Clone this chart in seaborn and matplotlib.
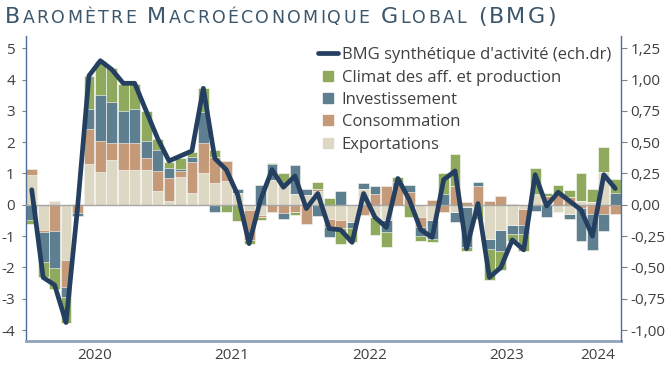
import numpy as np
import pandas as pd
import seaborn as sns
import matplotlib.pyplot as plt
from matplotlib import font_manager, ft2font
from matplotlib.lines import Line2D
from matplotlib.ticker import FuncFormatter

# monthly contributions (left scale), Jan 2020 -> Apr 2024
months = pd.period_range("2020-01", "2024-04", freq="M").strftime("%Y-%m")
export = [0.94, -0.82, 0.12, -1.75, 0.04, 1.31, 1.06, 1.44, 1.12, 1.12, 1.12, 0.43,
          0.13, 0.88, 0.39, 1.00, 0.71, 0.77, 0.39, -0.17, -0.33, 0.80, 0.65, 0.33,
          0.31, 0.45, -0.45, -0.50, -0.54, 0.49, -0.40, -0.49, 0.00, 0.00, -0.40, -0.49,
          0.00, -0.22, -0.06, 0.00, -1.10, -0.80, -0.65, -0.12, 0.30, 0.10, -0.22, -0.28,
          0.13, 0.10, 1.06, 0.00]
conso = [0.20, -0.04, -0.84, -0.88, -0.25, 1.12, 0.99, 0.54, 0.86, 0.86, 0.38, 0.64,
         0.72, 0.20, 0.99, 0.98, 0.80, 0.63, 0.00, -0.94, -0.07, -0.22, -0.27, -0.23,
         -0.60, 0.07, -0.25, -0.25, 0.00, -0.33, 0.36, 0.60, 0.73, 0.42, -0.30, 0.14,
         -0.22, 0.60, 0.10, 0.60, 0.13, 0.28, 0.04, -0.53, 0.06, 0.18, 0.31, 0.25,
         -0.09, -0.30, -0.28, -0.30]
invest = [-0.50, -0.97, -1.17, -0.30, -0.11, 0.62, 1.44, 1.30, 1.01, 1.07, 0.55, 0.67,
          0.32, 0.07, 0.13, 0.99, -0.23, 0.00, 0.12, 0.00, 0.63, 0.50, -0.18, 0.94,
          0.18, -0.35, -0.32, 0.45, -0.21, 0.21, 0.23, -0.37, 0.00, 0.21, -0.30, -0.59,
          0.36, -0.32, -1.28, 0.12, -0.32, -0.69, -0.27, -0.27, -0.20, -0.38, 0.00, -0.16,
          -1.06, -1.15, -0.55, 0.38]
climat = [-0.11, -0.48, -0.67, -0.85, 0.00, 1.05, 1.11, 1.09, 0.88, 0.82, 0.96, 0.37,
          0.21, 0.34, 0.19, 0.75, 0.23, -0.23, -0.52, -0.13, -0.10, 0.05, 0.35, -0.10,
          0.00, 0.21, 0.22, -0.50, -0.43, 0.00, -0.55, -0.48, 0.17, -0.38, -0.15, -0.11,
          0.64, 1.02, -0.13, -0.45, -0.98, -0.60, -0.23, -0.55, 0.83, 0.10, 0.32, 0.21,
          0.87, 0.39, 0.77, 0.43]
# synthetic BMG (right scale)
bmg = [0.12, -0.58, -0.64, -0.94, -0.03, 1.03, 1.15, 1.08, 0.97, 0.97, 0.75, 0.53,
       0.35, 0.39, 0.43, 0.93, 0.37, 0.28, 0.08, -0.31, 0.04, 0.28, 0.14, 0.23,
       -0.03, 0.09, -0.19, -0.20, -0.30, 0.09, -0.10, -0.18, 0.21, 0.04, -0.20, -0.26,
       0.20, 0.27, -0.35, 0.01, -0.58, -0.50, -0.28, -0.36, 0.24, -0.01, 0.10, 0.03,
       -0.04, -0.25, 0.24, 0.13]

years = ["2020", "2021", "2022", "2023", "2024"]
year_pos = [5.5, 17.5, 29.5, 41.5, 49.5]
year_edges = [-0.5, 11.5, 23.5, 35.5, 47.5]

layers = [("Exportations", export, "#dcd8c3"),
          ("Consommation", conso, "#c49a78"),
          ("Investissement", invest, "#5e7f8f"),
          ("Climat des aff. et production", climat, "#8fa95d")]
line_color = "#243f60"
txt = "#404040"

sns.set_style("white")
plt.rcParams["font.family"] = ["Open Sans", "DejaVu Sans"]
plt.rcParams["axes.unicode_minus"] = False

fig = plt.figure(figsize=(6.72, 3.71), dpi=100)
ax = fig.add_axes([26 / 672, 30 / 371, 595 / 672, 305 / 371])

df = pd.DataFrame({name: vals for name, vals, _ in layers}, index=months)
pos = df.clip(lower=0).cumsum(axis=1)
neg = df.clip(upper=0).cumsum(axis=1)

# stacking by overlap: tallest cumulative first
for name, _, col in reversed(layers):
    for side in (pos, neg):
        sns.barplot(x=list(months), y=side[name].values, color=col, saturation=1,
                    width=0.94, edgecolor="white", linewidth=0.4, errorbar=None, ax=ax)

ax.axhline(0, color="#a6a6a6", lw=1, zorder=3)

ax2 = ax.twinx()
sns.lineplot(x=np.arange(len(bmg)), y=bmg, color=line_color, linewidth=3.4, ax=ax2)

ylo, yhi = -4.35, 5.39
ax.set_ylim(ylo, yhi)
ax2.set_ylim(ylo / 4, yhi / 4)
ax.set_xlim(-0.5, 51.5)

ax.set_yticks(range(-4, 6))
ax2.set_yticks(np.arange(-1, 1.26, 0.25))
ax2.yaxis.set_major_formatter(FuncFormatter(lambda v, p: f"{v:.2f}".replace(".", ",")))

ax.set_xticks(year_edges)
ax.set_xticklabels([])
ax.set_xticks(year_pos, minor=True)
ax.set_xticklabels(years, minor=True)
ax.tick_params(axis="x", which="major", length=3, color="#808080", direction="out")
ax.tick_params(axis="x", which="minor", length=0, pad=5, labelsize=11, labelcolor=txt)
ax.tick_params(axis="y", length=3, color="#808080", pad=5, labelsize=11, labelcolor=txt, left=True)
ax2.tick_params(axis="y", length=4, color="#808080", pad=3, labelsize=11, labelcolor=txt, right=True)
ax.set_xlabel("")
ax.set_ylabel("")
ax2.set_ylabel("")

for s in ["top", "right"]:
    ax.spines[s].set_visible(False)
for s in ["top", "left", "bottom"]:
    ax2.spines[s].set_visible(False)
ax.spines["left"].set_color("#4f6f99")
ax.spines["left"].set_linewidth(1)
ax2.spines["right"].set_color("#4f6f99")
ax2.spines["right"].set_linewidth(1)
ax.spines["bottom"].set_color("#8fa3bd")
ax.spines["bottom"].set_linewidth(2)

handles = [Line2D([], [], color=line_color, lw=3.4, label="BMG synthétique d'activité (ech.dr)")]
for name, _, col in reversed(layers):
    handles.append(Line2D([], [], ls="none", marker="s", markersize=7, color=col, label=name))
ax2.legend(handles=handles, loc="upper left", bbox_to_anchor=(310 / 672, 1 - 39 / 371),
           bbox_transform=fig.transFigure, frameon=False, fontsize=12, labelcolor=txt,
           handlelength=1.2, handletextpad=0.2, labelspacing=0.38, borderpad=0)

# small caps title, letter spaced to the reference width (advance widths from the font)
title = "Baromètre Macroéconomique Global (BMG)"
tfont = ft2font.FT2Font(font_manager.findfont("DejaVu Sans"))
sizes = [12.5 if ch.islower() else 16 for ch in title]
advs = []
for ch, size in zip(title, sizes):
    tfont.set_size(size, 100)
    advs.append(tfont.load_char(ord(ch.upper())).linearHoriAdvance / 65536)
track = (551 - sum(advs)) / (len(title) - 1)
x = 5
for ch, size, a in zip(title, sizes, advs):
    fig.text(x / 672, 1 - 23 / 371, ch.upper(), fontsize=size, color="#3c566b",
             family="DejaVu Sans", va="baseline")
    x += a + track

fig.savefig("out.png", dpi=100)
